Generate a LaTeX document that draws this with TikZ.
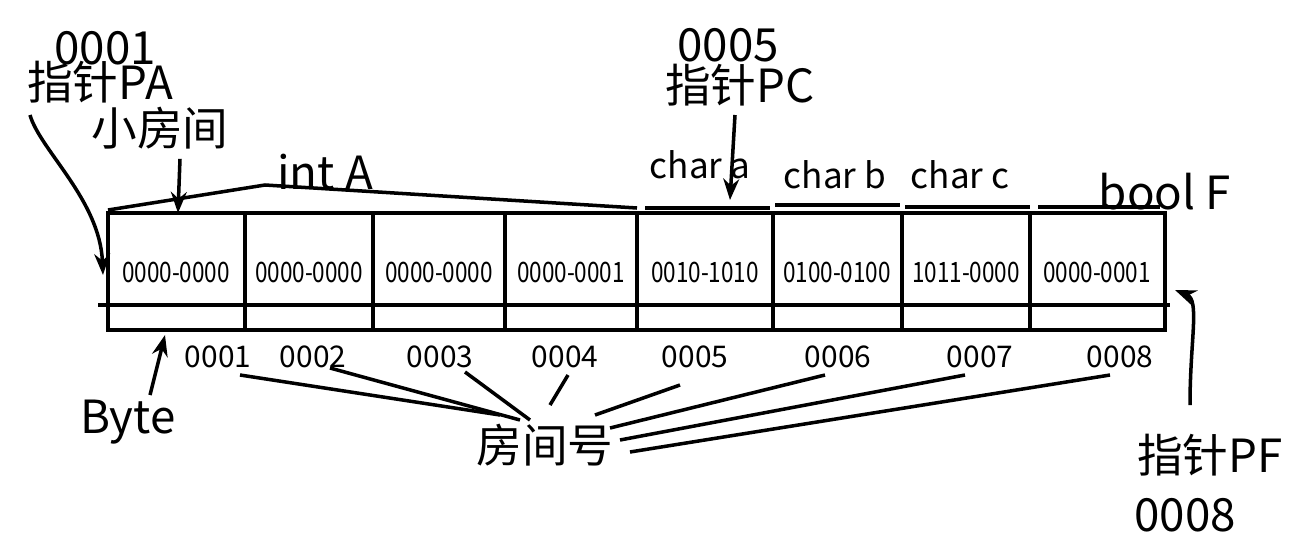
\documentclass[tikz,border=0pt]{standalone}
\usepackage{fontspec}
\setmainfont{Noto Sans CJK SC}
\usetikzlibrary{arrows.meta}
\begin{document}
\begin{tikzpicture}[x=0.02cm, y=-0.02cm, line width=2pt, >=Stealth,
    big/.style={font=\fontsize{26}{26}\selectfont, inner sep=0pt},
    mid/.style={font=\fontsize{20}{20}\selectfont, inner sep=0pt},
    cell/.style={font=\fontsize{16}{16}\selectfont, xscale=0.8, inner sep=0pt},
    num/.style={font=\fontsize{17}{17}\selectfont, inner sep=0pt}]
    \useasboundingbox (0,0) rectangle (1303,552);

    % Speicherzellen
    \draw (108,213) rectangle (1165,330);
    \foreach \x in {245,373,505,637,773,902,1030}
        \draw (\x,213) -- (\x,330);
    \draw (98,305) -- (1170,305);
    \foreach \x/\t [count=\i] in {176/0000-0000, 309/0000-0000, 439/0000-0000, 571/0000-0001,
        705/0010-1010, 837/0100-0100, 966/1011-0000, 1097/0000-0001}
        \node[cell] (c\i) at (\x,272) {\t};

    % Typ-Beschriftungen
    \node[big] (intA) at (325,172) {int A};
    \coordinate (k) at (265,185);
    \draw (108,210) -- (k) -- (637,208);
    \node[mid] (ca) at (700,165) {char a};
    \node[mid] (cb) at (835,175) {char b};
    \node[mid] (cc) at (960,175) {char c};
    \node[big] (bF) at (1165,192) {bool F};
    \draw (645,208) -- (770,208);
    \draw (775,205) -- (900,205);
    \draw (905,207) -- (1030,207);
    \draw (1038,207) -- (1160,207);

    % Zeiger
    \node[big] (a1) at (105,48) {0001};
    \node[big] (pa) at (100,82) {指针PA};
    \node[big] (room) at (160,128) {小房间};
    \draw[->] (room.south) ++(20,8) -- (178,213);
    \draw[->] (30,115) .. controls (40,150) and (100,200) .. (103,275);
    \node[big] (a5) at (728,45) {0005};
    \node[big] (pc) at (740,85) {指针PC};
    \draw[->] (735,115) -- (730,200);
    \node[big] (byte) at (128,422) {Byte};
    \draw[->] (150,395) -- (165,335);
    \node[big] (pf) at (1210,455) {指针PF};
    \node[big] (a8) at (1185,515) {0008};
    \draw[->] (1190,405) .. controls (1190,340) and (1200,300) .. (1175,290);

    % Raumnummern
    \node[big] (rn) at (545,445) {房间号};
    \foreach \x/\t [count=\i] in {218/0001, 313/0002, 440/0003, 565/0004,
        695/0005, 838/0006, 980/0007, 1120/0008}
        \node[num] (n\i) at (\x,357) {\t};
    \draw (240,375) -- (500,415);
    \draw (330,368) -- (520,420);
    \draw (465,372) -- (530,420);
    \draw (568,375) -- (550,405);
    \draw (680,385) -- (595,415);
    \draw (825,375) -- (610,428);
    \draw (965,375) -- (620,440);
    \draw (1110,375) -- (630,452);
\end{tikzpicture}
\end{document}
